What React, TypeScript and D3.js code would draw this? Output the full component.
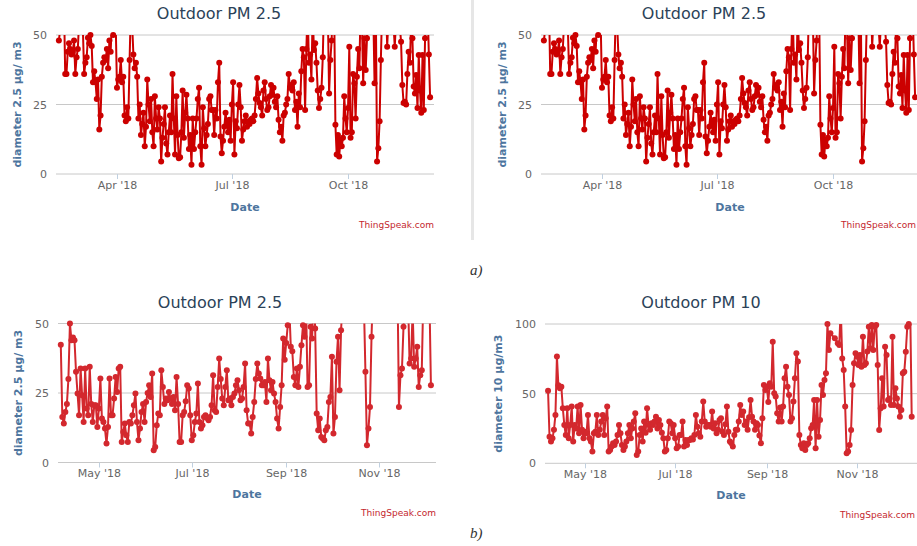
import React from "react";
import * as d3 from "d3";

const W = 917;
const H = 546;

// ---- data (daily readings, µg/m3) ----
const startYear = "2018-02-14";
const pm25Year: (number | null)[] = [
  48, 52, 60, 56, 62, 36, 36, 44, 47, 45,
  43, 44, 48, 36, 42, 45, 55, 64, 58, 52,
  36, 40, 42, 49, 47, 50, 46, 33, 37, 33,
  27, 34, 16, 21, 35, 40, 42, 41, 45, 38,
  48, 44, 55, 50, 60, 54, 31, 34, 35, 41,
  33, 35, 21, 19, 24, 20, 41, 60, 54, 43,
  38, 40, 35, 20, 25, 14, 18, 22, 10, 17,
  34, 25, 19, 27, 15, 10, 28, 20, 16, 24,
  20, 4.5, 13, 18, 24, 11, 7, 15, 21, 15,
  36, 20, 7, 28, 14, 5.7, 6, 15, 30, 13,
  22, 28.5, 20, 9, 14, 3.3, 20, 9, 15, 20,
  27, 31, 10, 3.3, 24, 16.5, 10, 14, 18, 27,
  28, 23, 23, 14, 23, 20, 33, 40, 13.5, 7.5,
  12, 17, 22, 18, 15, 19.5, 12, 25, 33, 7,
  19, 16.5, 25, 32, 24, 12, 16, 19, 21, 17,
  19, 18, 19.5, 20, 19, 21, 27, 34.5, 29, 25.5,
  24, 21, 30, 33, 27, 23, 24, 28, 32, 28.5,
  31, 26, 24, 28, 19.5, 15, 17, 12, 21, 22,
  25, 27, 36, 31, 32, 30, 33, 23, 26, 17,
  29, 24, 37, 45, 42, 23, 45, 60, 40, 43,
  34, 58, 44.6, 47, 40, 30, 23.7, 27, 31, 42,
  62, 55, 70, 58, 29, 41, 48, 65, 60, 17.7,
  7, 14, 6.3, 12.3, 10, 13, 28, 20, 15, 23.7,
  45.8, 13, 15, 36, 32.6, 20, 35, 45, 38, 62,
  55, 32.6, 48.8, 37.4, 48.8, 60, 70, 55, 65, 58,
  32.6, 60, 4.5, 9.3, 19, 41, 60, 72, 55, 63,
  45.8, 56, 60, 52, 58, 54, 45.8, 55, 62, 58,
  53, 47.6, 32, 25.5, 26, 25, 36, 44, 40, 55,
  48.8, 31.5, 29, 35.6, 23.7, 42.8, 30, 22, 42.8, 23,
  48.8, 58, 60, 43, 27.6,
];

const startSeason = "2018-04-06";
const pm25Season: (number | null)[] = [
  42.4, 16.4, 14, 18.2, 21, 30, 50, 44, 45, 44,
  32.6, 24.8, 17, 33.8, 24.2, 14.6, 33.8, 19.4, 17, 34.4,
  21, 14.6, 20.6, 20.6, 12.8, 19.4, 30.2, 15.8, 14.6, 12.2,
  6.8, 12.8, 30.2, 17, 17, 23, 30.8, 25.4, 33.8, 34.4,
  7.4, 11, 14, 9.8, 7.4, 14.6, 14, 17, 20.6, 24.8,
  14.6, 8, 12.2, 18.2, 21, 14.6, 21.8, 25, 27.8, 23.6,
  32, 4.4, 5.6, 13.4, 17.6, 17, 33.2, 27.2, 21, 23,
  22.4, 25.4, 23, 21, 23.6, 18.8, 30.8, 21, 7.4, 7.4,
  17, 18.2, 22, 27.8, 26.6, 17, 8, 9.8, 14.6, 17.6,
  28.4, 14.6, 12.2, 13.4, 16.4, 17, 16, 15.2, 16.4, 20.6,
  31.4, 18.8, 18.2, 27.2, 37.4, 30, 23, 20.6, 27.2, 33.2,
  22.4, 23, 20.6, 23.6, 24.8, 27.8, 29.6, 26, 22.4, 23,
  27.2, 35.6, 18.8, 14, 14, 10.4, 16.4, 21.8, 30, 35.6,
  32, 30.2, 27.8, 27.8, 29, 21.8, 37.4, 29.6, 26, 29,
  24.8, 21.8, 15.8, 12.2, 20, 27.8, 44.6, 37, 43, 49.4,
  56, 41.6, 40, 30.8, 27.8, 33.8, 27.2, 34.4, 42.2, 49.4,
  45.2, 58, 27.2, 27.8, 48.8, 44.6, 62, 48.2, 17.6, 11.6,
  15.8, 9.2, 8.6, 8, 11.6, 12.8, 21.8, 23.6, 38, 10.4,
  16.4, 36.2, 45.2, 26, 47.6, 58, 66, 72, 60, 75,
  68, 80, 62, 70, 58, 77, 64, 69, 61, 57,
  32.6, 6.2, 12.2, 20, 45.2, 63, 71, 58, 66, 80,
  62, 74, 60, 69, 56, 72, 65, 78, 61, 70,
  58, 66, 20, 31.4, 33.8, 48.8, 60, 72, 58, 35.6,
  37.4, 55, 34.4, 37.4, 41.6, 27.2, 31.4, 33.2, 60, 55,
  62, 58, 60, 27.8,
];

const pm10Season: (number | null)[] = [
  52, 19, 15.6, 18, 24, 34.7, 76.6, 56, 53.8, 55,
  39.5, 27.5, 20.3, 39.5, 18, 27.5, 40.7, 15.6, 27.5, 25,
  40.7, 21.5, 41.9, 24, 18, 22.7, 21.5, 34.7, 18, 15.6,
  8.4, 21.5, 22.7, 34.7, 20.3, 24, 30, 34.7, 20.3, 32.3,
  40.7, 8.4, 9.6, 12, 14.4, 13.2, 15.6, 20.3, 27.5, 21.5,
  13.2, 9.6, 12, 15.6, 21.5, 27.5, 18, 25, 30, 35.9,
  6, 8.4, 20.3, 25, 15.6, 30, 22, 39.5, 27.5, 24,
  28.7, 27.5, 30, 33.5, 25, 31.1, 27.5, 22, 18, 8.4,
  9.6, 18, 30, 28.7, 21.5, 27.5, 18, 10.8, 12, 20.3,
  20.3, 30, 12, 16.8, 13.2, 16.8, 16.8, 18, 17, 20.3,
  34.7, 26.3, 21.5, 19.1, 30, 44.3, 30, 26.3, 27.5, 27.5,
  26.3, 37.1, 25, 28.7, 21.5, 24, 31.1, 32.3, 22.7, 20.3,
  28, 40.7, 22.7, 15.6, 14.4, 12, 20.3, 24, 24, 30,
  41.9, 34.7, 37.1, 27.5, 30, 24, 33, 45.5, 33.5, 30,
  24, 28.7, 27.5, 20, 14.4, 32.3, 56.2, 52.6, 55, 44,
  57.4, 55, 87.3, 50.2, 47.9, 35.9, 30, 40, 30, 40.7,
  61, 69.4, 55, 49, 30, 32.3, 44.3, 61, 79, 73,
  20.3, 13.2, 10.8, 14.4, 9.6, 13.2, 14.4, 18, 25.1, 27.5,
  45.5, 10.8, 45.5, 19.1, 31.1, 56.2, 49, 59.8, 64.6, 100,
  81.3, 93.3, null, null, 89.7, null, 86.1, 84.9, 112, 75.3,
  67, 40.7, 7.2, 8.4, 13.2, 23.9, 56.2, 71.8, 79, 76.6,
  70.6, 77.8, 69.4, 90.9, 70.6, 71.8, 80.2, 98, 82.6, 99.3,
  81.3, 98, 99.3, 70.6, 23.9, 39.5, 61, 40.7, 83.7, 77.8,
  45.5, 46.6, 41.9, 90.9, 41.9, 53.8, 46.6, 40.7, 33.5, 38.3,
  64.6, 65.8, 80, 98, 100, 110, 33.5,
];

const yearTicks = ["2018-04-01", "2018-07-01", "2018-10-01"];
const seasonTicks = ["2018-05-01", "2018-07-01", "2018-09-01", "2018-11-01"];
const pm25Ticks = [0, 25, 50];
const pm10Ticks = [0, 50, 100];

const parseDay = d3.timeParse("%Y-%m-%d");
const parseT = d3.timeParse("%Y-%m-%dT%H:%M");
const fmtTick = d3.timeFormat("%b '%y");

const FONT = "'DejaVu Sans', Verdana, sans-serif";

type Pt = { d: Date; v: number };

type PanelProps = {
  id: string;
  dx: number;
  x0: number;
  x1: number;
  yTop: number;
  yBot: number;
  domain: [string, string];
  start: string;
  values: (number | null)[];
  yTicks: number[];
  xTicks: string[];
  color: string;
  title: string;
  titleX: number;
  titleY: number;
  yTitle: string;
  yTitleX: number;
  tickLabelY: number;
  dateY: number;
  creditX: number;
  creditY: number;
  r: number;
};

function Panel(p: PanelProps) {
  const x = d3
    .scaleTime()
    .domain([parseT(p.domain[0]) as Date, parseT(p.domain[1]) as Date])
    .range([p.x0, p.x1]);
  const yMax = d3.max(p.yTicks) as number;
  const y = d3.scaleLinear().domain([0, yMax]).range([p.yBot, p.yTop]);
  const t0 = parseDay(p.start) as Date;
  const pts: Pt[] = [];
  p.values.forEach((v, i) => {
    if (v != null) pts.push({ d: d3.timeDay.offset(t0, i), v });
  });
  const line = d3
    .line<Pt>()
    .x((q) => x(q.d))
    .y((q) => y(q.v));
  const cx = (p.x0 + p.x1) / 2;
  const cy = (p.yTop + p.yBot) / 2;
  return (
    <g transform={`translate(${p.dx},0)`}>
      <defs>
        <clipPath id={`clip-${p.id}`}>
          <rect x={p.x0} y={p.yTop} width={p.x1 - p.x0} height={p.yBot - p.yTop} />
        </clipPath>
        <clipPath id={`clipm-${p.id}`}>
          <rect x={p.x0 - 4} y={p.yTop - 4} width={p.x1 - p.x0 + 8} height={p.yBot - p.yTop + 8} />
        </clipPath>
      </defs>
      <text x={p.titleX} y={p.titleY} textAnchor="middle" fontFamily={FONT} fontSize={16} fill="#2b4258">
        {p.title}
      </text>
      {p.yTicks.map((t) => (
        <g key={t}>
          <line x1={p.x0} x2={p.x1} y1={y(t)} y2={y(t)} stroke="#c8c8c8" strokeWidth={1} />
          <text x={p.x0 - 9} y={y(t) + 4} textAnchor="end" fontFamily={FONT} fontSize={11} fill="#666">
            {t}
          </text>
        </g>
      ))}
      {p.xTicks.map((s) => {
        const d = parseDay(s) as Date;
        const tx = Math.round(x(d)) + 0.5;
        return (
          <g key={s}>
            <line x1={tx} x2={tx} y1={p.yBot} y2={p.yBot + 5} stroke="#c0d0e0" strokeWidth={1} />
            <text x={tx} y={p.tickLabelY} textAnchor="middle" fontFamily={FONT} fontSize={11} fill="#666">
              {fmtTick(d)}
            </text>
          </g>
        );
      })}
      <text
        transform={`translate(${p.yTitleX},${cy}) rotate(-90)`}
        textAnchor="middle"
        fontFamily={FONT}
        fontSize={11}
        fontWeight="bold"
        fill="#4d759e"
      >
        {p.yTitle}
      </text>
      <text x={cx} y={p.dateY} textAnchor="middle" fontFamily={FONT} fontSize={11} fontWeight="bold" fill="#4d759e">
        Date
      </text>
      <g clipPath={`url(#clip-${p.id})`}>
        <path d={line(pts) || ""} fill="none" stroke={p.color} strokeWidth={2} strokeLinejoin="round" />
      </g>
      <g clipPath={`url(#clipm-${p.id})`}>
        {pts
          .filter((q) => q.v <= yMax * 1.005)
          .map((q, i) => (
            <circle key={i} cx={x(q.d)} cy={y(q.v)} r={p.r} fill={p.color} />
          ))}
      </g>
      <text x={p.creditX} y={p.creditY} textAnchor="end" fontFamily={FONT} fontSize={9} fill="#c4262e">
        ThingSpeak.com
      </text>
    </g>
  );
}

export default function App() {
  const red1 = "#cc0000";
  const red2 = "#d3282e";
  const yearCfg = {
    x0: 56,
    x1: 434,
    yTop: 35,
    yBot: 174,
    domain: ["2018-02-11T17:00", "2018-12-08T02:00"] as [string, string],
    start: startYear,
    values: pm25Year,
    yTicks: pm25Ticks,
    xTicks: yearTicks,
    color: red1,
    title: "Outdoor PM 2.5",
    titleX: 219,
    titleY: 19,
    yTitle: "diameter 2.5 µg/ m3",
    yTitleX: 21,
    tickLabelY: 189,
    dateY: 211,
    creditX: 434,
    creditY: 228,
    r: 3,
  };
  return (
    <svg
      width={W}
      height={H}
      viewBox={`0 0 ${W} ${H}`}
      style={{ position: "absolute", left: 0, top: 0, background: "#fff" }}
    >
      <rect x={0} y={0} width={W} height={H} fill="#fff" />
      <rect x={471} y={0} width={3} height={240} fill="#e6e6e6" />
      <Panel id="a1" dx={0} {...yearCfg} />
      <Panel id="a2" dx={485} {...yearCfg} creditX={431} />
      <Panel
        id="b1"
        dx={0}
        x0={58}
        x1={436}
        yTop={323.5}
        yBot={462.5}
        domain={["2018-04-04T04:00", "2018-12-08T08:00"]}
        start={startSeason}
        values={pm25Season}
        yTicks={pm25Ticks}
        xTicks={seasonTicks}
        color={red2}
        title="Outdoor PM 2.5"
        titleX={220}
        titleY={308}
        yTitle="diameter 2.5 µg/ m3"
        yTitleX={22}
        tickLabelY={477}
        dateY={498}
        creditX={436}
        creditY={516}
        r={3}
      />
      <Panel
        id="b2"
        dx={0}
        x0={545}
        x1={917}
        yTop={324}
        yBot={463.3}
        domain={["2018-04-03T22:30", "2018-12-11T14:00"]}
        start={startSeason}
        values={pm10Season}
        yTicks={pm10Ticks}
        xTicks={seasonTicks}
        color={red2}
        title="Outdoor PM 10"
        titleX={701}
        titleY={308}
        yTitle="diameter 10 µg/m3"
        yTitleX={502}
        tickLabelY={478}
        dateY={499}
        creditX={915}
        creditY={518}
        r={3}
      />
      <text x={470} y={275} fontFamily="'Liberation Serif', serif" fontStyle="italic" fontSize={15} fill="#333">
        a)
      </text>
      <text x={470} y={538} fontFamily="'Liberation Serif', serif" fontStyle="italic" fontSize={15} fill="#333">
        b)
      </text>
    </svg>
  );
}
